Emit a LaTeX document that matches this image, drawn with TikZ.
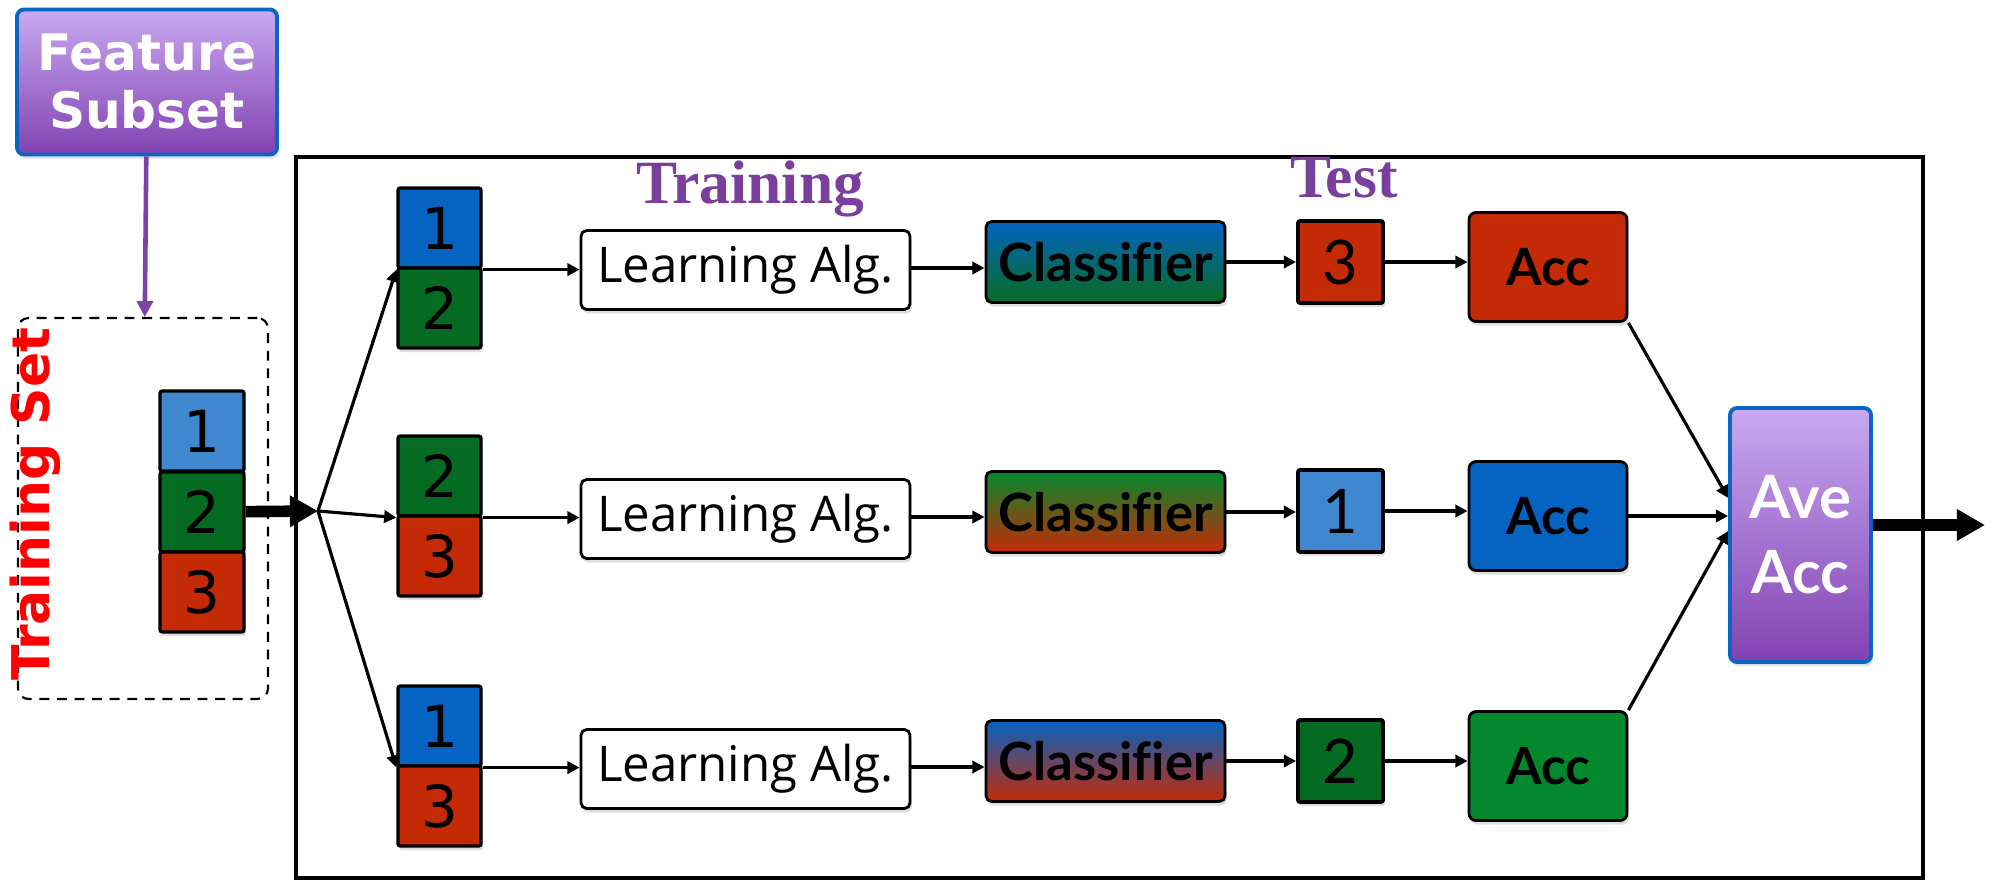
\documentclass[tikz,border=0pt]{standalone}
\usepackage{fontspec}
\usetikzlibrary{arrows.meta,shadows}

\newfontfamily\vfont{DejaVu Sans}
\newfontfamily\osfont{Open Sans}
\newfontfamily\latofont{Lato}[Ligatures=NoCommon]
\newfontfamily\serifb{Liberation Serif}

\definecolor{foldblue}{HTML}{0563C1}
\definecolor{lightblue}{HTML}{3F88CF}
\definecolor{foldgreen}{HTML}{066B22}
\definecolor{accgreen}{HTML}{04882E}
\definecolor{foldred}{HTML}{C52A07}
\definecolor{lavtop}{HTML}{C9A9F2}
\definecolor{lavbot}{HTML}{8242B2}
\definecolor{edgeblue}{HTML}{0A66C2}
\definecolor{phasepurple}{HTML}{7A3E9D}
\definecolor{featpurple}{HTML}{7B42A8}

\begin{document}
\begin{tikzpicture}[
  softshadow/.style={drop shadow={opacity=0.25,shadow xshift=0.5pt,shadow yshift=-1.2pt}},
  foldbox/.style={draw=black, line width=0.9pt, rounded corners=0.6pt, minimum width=0.83cm, minimum height=0.80cm, inner sep=0pt, font=\vfont\fontsize{16.5}{18}\selectfont, softshadow},
  algbox/.style={draw=black, line width=0.8pt, rounded corners=1.6pt, fill=white, minimum width=3.29cm, minimum height=0.79cm, inner sep=0pt, font=\osfont\fontsize{14}{16}\selectfont, softshadow},
  clfbox/.style={draw=black, line width=0.8pt, rounded corners=1.6pt, minimum width=2.39cm, minimum height=0.81cm, inner sep=0pt, font=\latofont\bfseries\fontsize{15}{16}\selectfont, softshadow},
  testbox/.style={draw=black, line width=1.1pt, rounded corners=0.6pt, minimum width=0.85cm, minimum height=0.82cm, inner sep=0pt, font=\latofont\fontsize{17.5}{18}\selectfont, softshadow},
  accbox/.style={draw=black, line width=0.8pt, rounded corners=2pt, minimum width=1.58cm, minimum height=1.09cm, inner sep=0pt, font=\latofont\bfseries\fontsize{14.6}{16}\selectfont, softshadow},
  purplebox/.style={draw=edgeblue, line width=1.1pt, rounded corners=2pt, top color=lavtop, bottom color=lavbot, text=white, align=center, inner sep=0pt, softshadow},
  flow/.style={line width=0.9pt, -{Triangle[length=3.5pt,width=3.5pt]}},
  bigflow/.style={line width=3.3pt, -{Triangle[length=8pt,width=8.5pt]}},
  featflow/.style={draw=featpurple, line width=1.3pt, -{Triangle[length=4.5pt,width=4.5pt]}},
  phase/.style={text=phasepurple, font=\serifb\bfseries\fontsize{17.5}{20}\selectfont, anchor=base},
]
\useasboundingbox (0,0) rectangle (19.93,-8.80);

% Feature subset and training set
\node[purplebox, minimum width=2.60cm, minimum height=1.45cm, font=\vfont\bfseries\fontsize{14.3}{16.5}\selectfont] (fs) at (1.47,-0.82) {Feature\\Subset};
\node[draw=black, dashed, dash pattern=on 2.8pt off 2.2pt, line width=0.6pt, rounded corners=3pt, minimum width=2.50cm, minimum height=3.81cm] (tsbox) at (1.43,-5.085) {};
\node[rotate=90, text=red, font=\vfont\bfseries\fontsize{14.8}{16}\selectfont] (tslabel) at (0.35,-5.04) {Training Set};
\node[foldbox, fill=lightblue, minimum width=0.84cm] (l1) at (2.02,-4.31) {1};
\node[foldbox, fill=foldgreen, minimum width=0.84cm] (l2) at (2.02,-5.12) {2};
\node[foldbox, fill=foldred, minimum width=0.84cm] (l3) at (2.02,-5.92) {3};

\draw[featflow] (fs) -- (tsbox);

% Cross validation frame
\draw[line width=1pt] (2.96,-1.57) rectangle (19.23,-8.78);
\node[phase] (train) at (7.50,-2.03) {Training};
\node[phase] (test) at (13.44,-1.97) {Test};

\coordinate (fan) at (3.18,-5.11);
\draw[bigflow] (l2) -- (fan);

% Row 1
\node[foldbox, fill=foldblue] (s1a) at (4.395,-2.28) {1};
\node[foldbox, fill=foldgreen] (s1b) at (4.395,-3.08) {2};
\node[algbox] (la1) at (7.455,-2.70) {Learning Alg.};
\node[clfbox, top color=foldblue, bottom color=foldgreen] (cl1) at (11.055,-2.62) {Classifier};
\node[testbox, fill=foldred] (t1) at (13.405,-2.62) {3};
\node[accbox, fill=foldred] (acc1) at (15.48,-2.67) {Acc};

% Row 2
\node[foldbox, fill=foldgreen] (s2a) at (4.395,-4.76) {2};
\node[foldbox, fill=foldred] (s2b) at (4.395,-5.56) {3};
\node[algbox] (la2) at (7.455,-5.19) {Learning Alg.};
\node[clfbox, top color=accgreen, bottom color=foldred] (cl2) at (11.055,-5.12) {Classifier};
\node[testbox, fill=lightblue] (t2) at (13.405,-5.11) {1};
\node[accbox, fill=foldblue] (acc2) at (15.48,-5.16) {Acc};

% Row 3
\node[foldbox, fill=foldblue] (s3a) at (4.395,-7.26) {1};
\node[foldbox, fill=foldred] (s3b) at (4.395,-8.06) {3};
\node[algbox] (la3) at (7.455,-7.69) {Learning Alg.};
\node[clfbox, top color=foldblue, bottom color=foldred] (cl3) at (11.055,-7.61) {Classifier};
\node[testbox, fill=foldgreen] (t3) at (13.405,-7.61) {2};
\node[accbox, fill=accgreen] (acc3) at (15.48,-7.66) {Acc};

% Average
\node[purplebox, minimum width=1.41cm, minimum height=2.54cm, font=\latofont\bfseries\fontsize{17}{21.3}\selectfont] (ave) at (18.005,-5.35) {Ave\\Acc};
\coordinate (out) at (19.85,-5.25);

\draw[flow] (fan) -- (s1a.south west);
\draw[flow] (fan) -- (s2a.south west);
\draw[flow] (fan) -- (s3a.south west);

\draw[flow] (s1a.south east) -- (s1a.south east -| la1.west);
\draw[flow] ([yshift=0.02cm]la1.east) -- ([yshift=0.02cm]la1.east -| cl1.west);
\draw[flow] (cl1.east) -- (cl1.east -| t1.west);
\draw[flow] (t1.east) -- (t1.east -| acc1.west);

\draw[flow] (s2a.south east) -- (s2a.south east -| la2.west);
\draw[flow] ([yshift=0.02cm]la2.east) -- ([yshift=0.02cm]la2.east -| cl2.west);
\draw[flow] (cl2.east) -- (cl2.east -| t2.west);
\draw[flow] (t2.east) -- (t2.east -| acc2.west);

\draw[flow] (s3a.south east) -- (s3a.south east -| la3.west);
\draw[flow] ([yshift=0.02cm]la3.east) -- ([yshift=0.02cm]la3.east -| cl3.west);
\draw[flow] (cl3.east) -- (cl3.east -| t3.west);
\draw[flow] (t3.east) -- (t3.east -| acc3.west);

\draw[flow] (acc1.south east) -- ([yshift=0.37cm]ave.west);
\draw[flow] (acc2) -- (acc2 -| ave.west);
\draw[flow] (acc3.north east) -- ([yshift=0.04cm]ave.west);
\draw[bigflow] ([yshift=0.10cm]ave.east) -- (out);
\end{tikzpicture}
\end{document}
